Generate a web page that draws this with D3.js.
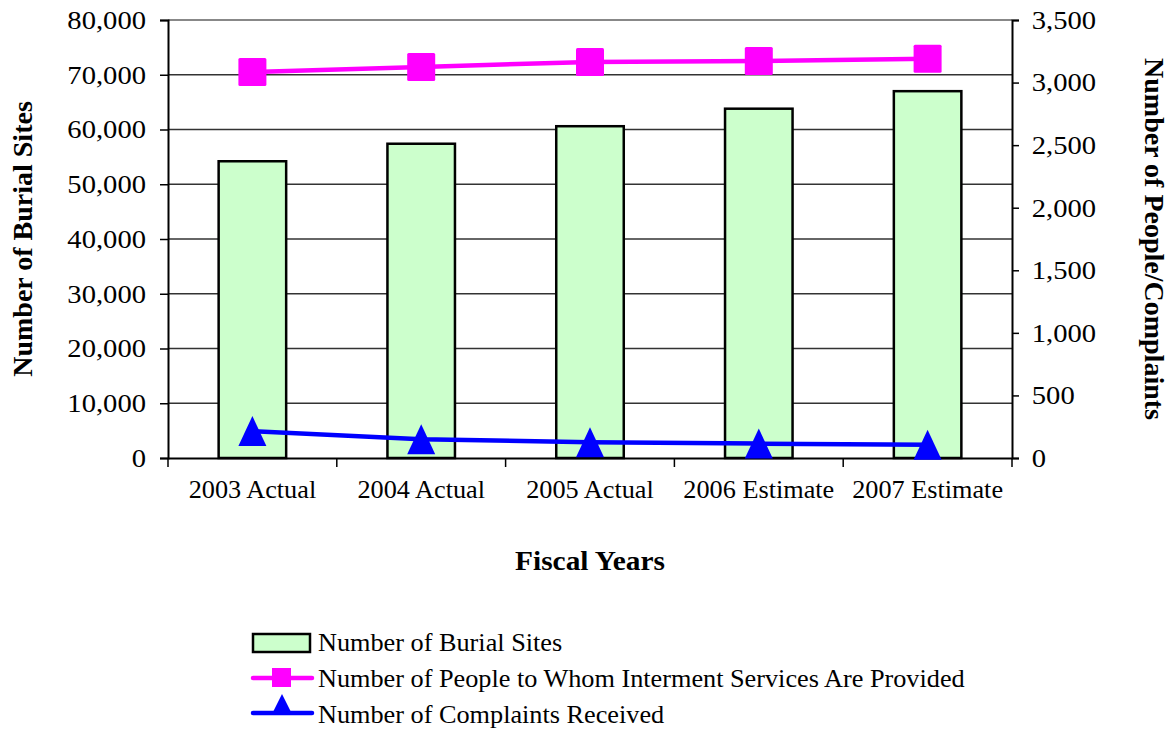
<!DOCTYPE html>
<html><head><meta charset="utf-8">
<script src="https://cdn.jsdelivr.net/npm/d3@7"></script>
</head>
<body style="margin:0;background:#fff"><svg id="c" width="1172" height="730"></svg>
<script>
const categories = ["2003 Actual","2004 Actual","2005 Actual","2006 Estimate","2007 Estimate"];
const burialSites = [54200, 57400, 60600, 63800, 67000];
const peopleServed = [3085, 3125, 3165, 3172, 3190];
const complaints = [215, 150, 125, 115, 105];
const leftTicks = [0,10000,20000,30000,40000,50000,60000,70000,80000];
const rightTicks = [0,500,1000,1500,2000,2500,3000,3500];
const seriesNames = ["Number of Burial Sites","Number of People to Whom Interment Services Are Provided","Number of Complaints Received"];

const FONT = "'Liberation Serif'";
const svg = d3.select("#c");
const L=168, R=1012, T=20, B=458;
const x = d3.scaleBand().domain(categories).range([L,R]).paddingInner(0.6).paddingOuter(0.3);
const yL = d3.scaleLinear().domain([0,80000]).range([B,T]);
const yR = d3.scaleLinear().domain([0,3500]).range([B,T]);
const fmt = d3.format(",");

// gridlines
svg.append("g").selectAll("line").data(leftTicks.filter(d=>d>0 && d<80000)).join("line")
  .attr("x1",L).attr("x2",R).attr("y1",d=>yL(d)).attr("y2",d=>yL(d))
  .attr("stroke","#333").attr("stroke-width",1.5);
svg.append("line").attr("x1",L).attr("x2",R).attr("y1",T).attr("y2",T).attr("stroke","#888").attr("stroke-width",2);

// bars
svg.append("g").selectAll("rect").data(categories).join("rect")
  .attr("x",d=>x(d)).attr("width",x.bandwidth())
  .attr("y",(d,i)=>yL(burialSites[i])).attr("height",(d,i)=>B-yL(burialSites[i]))
  .attr("fill","#ccffcc").attr("stroke","#000").attr("stroke-width",2.5);

// left axis
const gl = svg.append("g").attr("transform",`translate(${L},0)`)
  .call(d3.axisLeft(yL).tickValues(leftTicks).tickFormat(fmt).tickSize(8).tickPadding(12));
gl.attr("font-family",null);
gl.select(".domain").attr("stroke","#000").attr("stroke-width",2);
gl.selectAll(".tick line").attr("stroke","#000").attr("stroke-width",1.5);
gl.selectAll(".tick text").style("font-family",FONT).style("font-size","26px").attr("fill","#000")
  .attr("transform","scale(1.1,1)");

// right axis
const gr = svg.append("g").attr("transform",`translate(${R},0)`)
  .call(d3.axisRight(yR).tickValues(rightTicks).tickFormat(fmt).tickSize(7).tickPadding(11));
gr.attr("font-family",null);
gr.select(".domain").attr("stroke","#000").attr("stroke-width",2);
gr.selectAll(".tick line").attr("stroke","#000").attr("stroke-width",1.5);
gr.selectAll(".tick text").style("font-family",FONT).style("font-size","26px").attr("fill","#000")
  .attr("transform","scale(1.1,1)");

// bottom axis with ticks at category boundaries
const gb = svg.append("g").attr("transform",`translate(0,${B})`)
  .call(d3.axisBottom(x).tickSize(0).tickPadding(22));
gb.attr("font-family",null);
gb.select(".domain").attr("stroke","#000").attr("stroke-width",2);
gb.selectAll(".tick text").style("font-family",FONT).style("font-size","25px").attr("fill","#000")
  .attr("transform","scale(1.05,1)");
const bounds = categories.map(c=>x(c)-x.step()*x.paddingInner()/2).concat([R]);
svg.append("g").selectAll("line").data(bounds).join("line")
  .attr("x1",d=>d).attr("x2",d=>d).attr("y1",B).attr("y2",B+9)
  .attr("stroke","#000").attr("stroke-width",1.5);

// lines
const cx = d=>x(d)+x.bandwidth()/2;
const lineP = d3.line().x((d,i)=>cx(categories[i])).y(d=>yR(d));
svg.append("path").datum(peopleServed).attr("d",lineP).attr("fill","none").attr("stroke","#ff00ff").attr("stroke-width",4.5);
svg.append("path").datum(complaints).attr("d",lineP).attr("fill","none").attr("stroke","#0000ff").attr("stroke-width",4.5);
const sq=28;
svg.append("g").selectAll("rect").data(peopleServed).join("rect")
  .attr("x",(d,i)=>cx(categories[i])-sq/2).attr("y",d=>yR(d)-sq/2).attr("width",sq).attr("height",sq)
  .attr("fill","#ff00ff").attr("rx",1.5);
const triPath = (w,h,up)=>`M0,${-up}L${w/2},${h-up}L${-w/2},${h-up}Z`;
svg.append("g").selectAll("path").data(complaints).join("path")
  .attr("d",triPath(28,30,15)).attr("transform",(d,i)=>`translate(${cx(categories[i])},${yR(d)})`)
  .attr("fill","#0000ff");

// axis titles
svg.append("text").attr("transform",`translate(32,${(T+B)/2}) rotate(-90)`).attr("text-anchor","middle")
  .style("font-family",FONT).style("font-size","28px").style("font-weight","bold").text("Number of Burial Sites");
svg.append("text").attr("transform",`translate(1145,${(T+B)/2}) rotate(90)`).attr("text-anchor","middle")
  .style("font-family",FONT).style("font-size","28px").style("font-weight","bold").text("Number of People/Complaints");
svg.append("text").attr("transform","translate(590,570) scale(1.05,1)").attr("text-anchor","middle")
  .style("font-family",FONT).style("font-size","28px").style("font-weight","bold").text("Fiscal Years");

// legend
const lg = svg.append("g");
const rows=[643,678,713];
lg.append("rect").attr("x",253).attr("y",634).attr("width",57).attr("height",18)
  .attr("fill","#ccffcc").attr("stroke","#000").attr("stroke-width",2.5);
lg.append("line").attr("x1",253).attr("x2",312).attr("y1",rows[1]).attr("y2",rows[1]).attr("stroke","#ff00ff").attr("stroke-width",4.5).attr("stroke-linecap","round");
lg.append("rect").attr("x",272).attr("y",rows[1]-10).attr("width",19).attr("height",19).attr("fill","#ff00ff");
lg.append("line").attr("x1",253).attr("x2",312).attr("y1",rows[2]).attr("y2",rows[2]).attr("stroke","#0000ff").attr("stroke-width",4.5).attr("stroke-linecap","round");
lg.append("path").attr("d",triPath(20,20,19)).attr("transform",`translate(282,${rows[2]})`).attr("fill","#0000ff");
lg.selectAll("text").data(seriesNames).join("text")
  .attr("transform",(d,i)=>`translate(318,${[651,687,723][i]}) scale(1.05,1)`)
  .style("font-family",FONT).style("font-size","25px").attr("fill","#000").text(d=>d);
</script></body></html>
